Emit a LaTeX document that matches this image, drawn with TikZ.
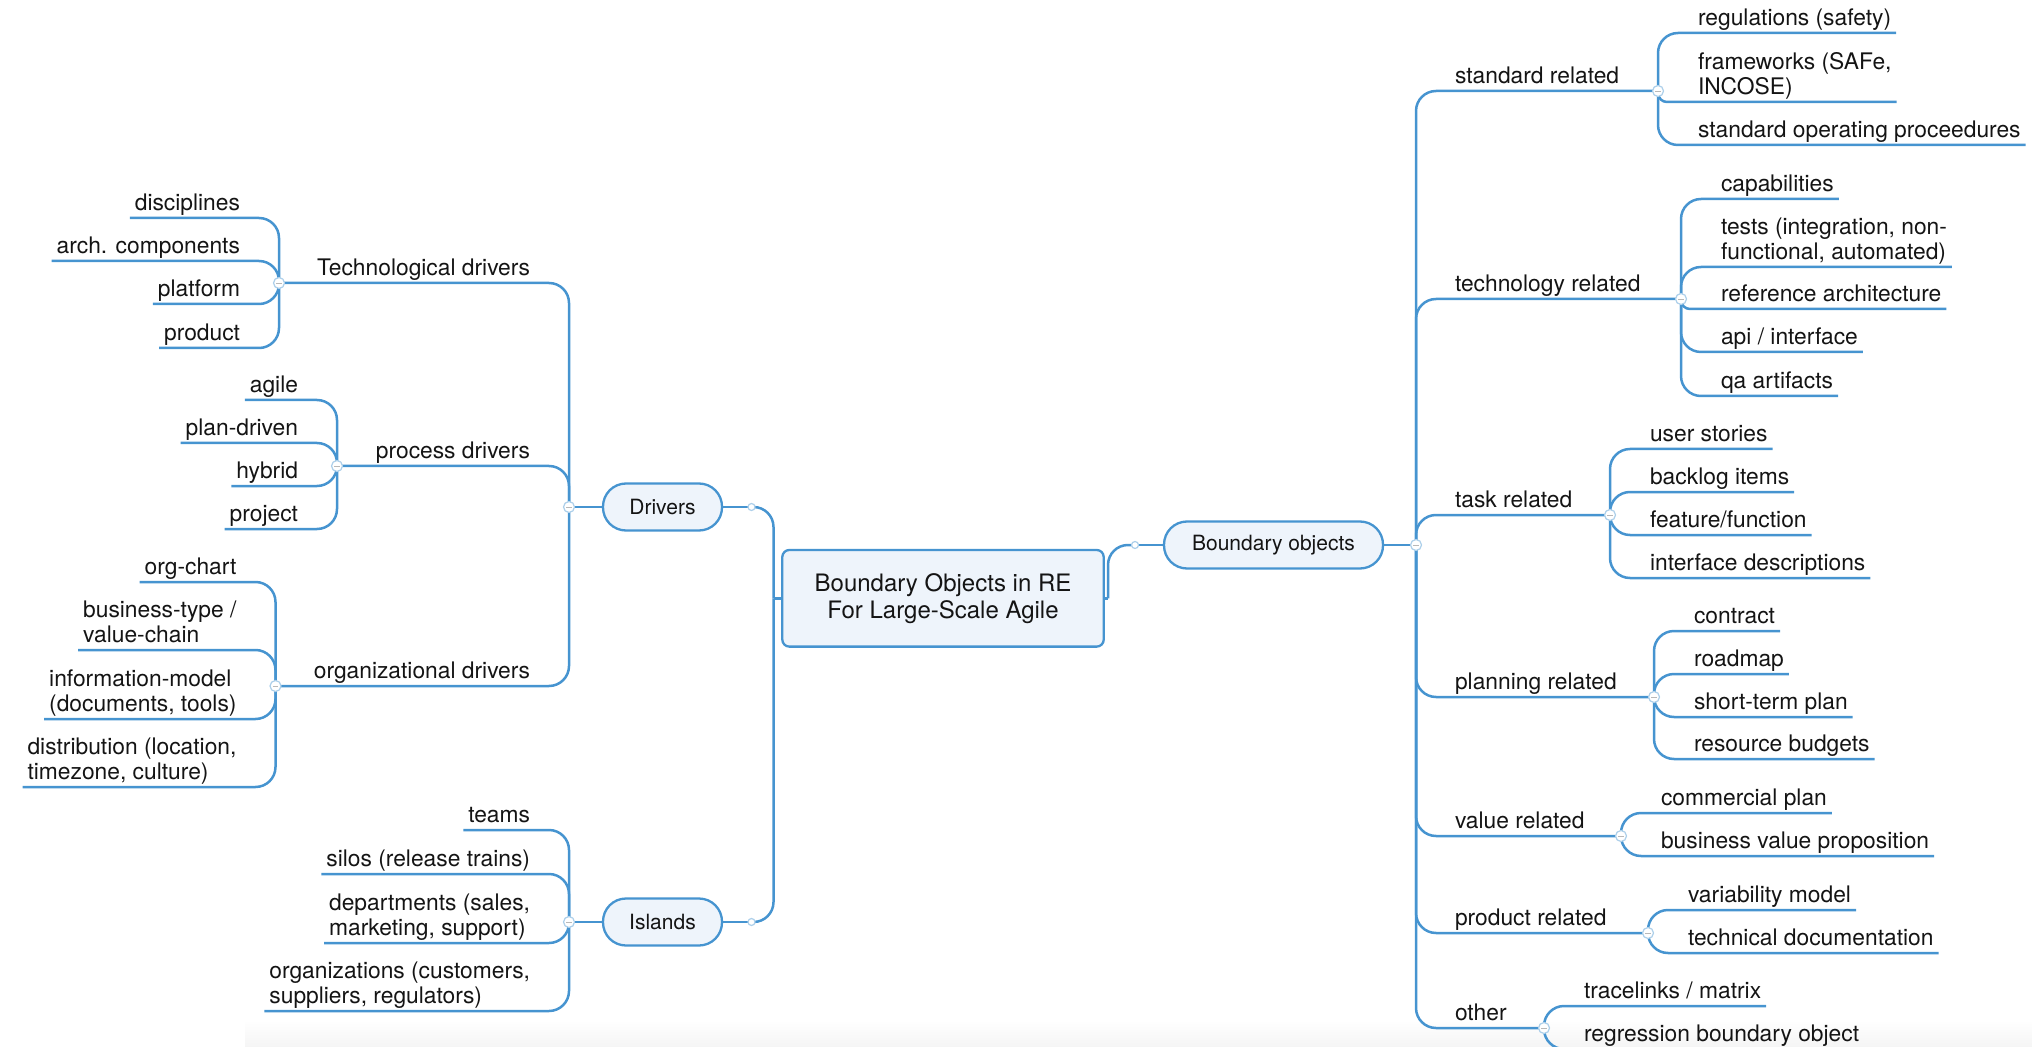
\documentclass[tikz,border=0pt]{standalone}
\usepackage{fontspec}
\setmainfont{TeX Gyre Heros}
\usetikzlibrary{calc,shadings}
\definecolor{ln}{RGB}{70,148,208}
\definecolor{nf}{RGB}{238,244,251}
\definecolor{tx}{RGB}{20,20,20}
\newcommand\ml[1]{\begin{tabular}[b]{@{}l@{}}#1\end{tabular}}
\tikzset{
  conn/.style={draw=ln, line width=1.25pt, rounded corners=10pt},
  connsm/.style={draw=ln, line width=1.25pt, rounded corners=4.5pt},
  leafbase/.style={inner xsep=2.5pt, inner ysep=0pt, outer sep=0pt, text=tx,
    font=\fontsize{11.4}{12.6}\selectfont},
  leafL/.style={leafbase, anchor=south east},
  leafR/.style={leafbase, anchor=south west},
  pill/.style={draw=ln, fill=nf, line width=1.15pt, rounded corners=11.5pt,
    minimum height=23.5pt, inner sep=0pt, text=tx, font=\fontsize{10.5}{12}\selectfont},
  rootbox/.style={draw=ln, fill=nf, line width=1.15pt, rounded corners=3.5pt,
    minimum width=160.7pt, minimum height=48.3pt, align=center, text=tx,
    font=\fontsize{12}{13.5}\selectfont},
  jn/.style={circle, draw=ln!45, fill=white, line width=0.6pt, minimum size=5.5pt, inner sep=0pt,
    path picture={\draw[gray!55, line width=0.4pt]
      ([xshift=-1.3pt]path picture bounding box.center) -- ([xshift=1.3pt]path picture bounding box.center);}},
  jsm/.style={circle, draw=ln!45, fill=white, line width=0.6pt, minimum size=3.5pt, inner sep=0pt},
}
\begin{document}
\begin{tikzpicture}[x=0.5pt, y=-0.5pt]
\useasboundingbox (0,0) rectangle (2032,1047);
\shade[top color=white, bottom color=gray!8] (245,1020) rectangle (2032,1047);

% ---------- coordinates of junctions ----------
\coordinate (tj) at (279,283);
\coordinate (pj) at (337,466);
\coordinate (oj) at (275.5,686);
\coordinate (dj) at (569,507);
\coordinate (ij) at (569,922);
\coordinate (dsc) at (751.5,507);
\coordinate (isc) at (751.5,922);
\coordinate (cl) at (773.5,598.3);
\coordinate (cr) at (1108,598.3);
\coordinate (bsc) at (1135,545);
\coordinate (bj) at (1416,545);
\coordinate (sj) at (1658,91);
\coordinate (tej) at (1681,299);
\coordinate (taj) at (1610,515);
\coordinate (plj) at (1654,697);
\coordinate (vaj) at (1621,836);
\coordinate (prj) at (1648,933);
\coordinate (otj) at (1544,1028);

% ---------- main nodes ----------
\node[rootbox] (root) at (943,598.3) {Boundary Objects in RE\\For Large-Scale Agile};
\node[pill, minimum width=59.5pt] (drv) at (662.5,507) {Drivers};
\node[pill, minimum width=59.5pt] (isl) at (662.5,922) {Islands};
\node[pill, minimum width=109.5pt] (bo) at (1273.5,545) {Boundary objects};

% ---------- left side ----------
\node[leafL] (tech) at (535,283) {\ml{Technological drivers}};
\node[leafL] (proc) at (535,466) {\ml{process drivers}};
\node[leafL] (orgd) at (535,686) {\ml{organizational drivers}};

\node[leafL] (disc) at (245,218) {\ml{disciplines}};
\node[leafL] (arch) at (245,261) {\ml{arch. components}};
\node[leafL] (plat) at (245,304) {\ml{platform}};
\node[leafL] (prod) at (245,348) {\ml{product}};

\node[leafL] (agile) at (303,400) {\ml{agile}};
\node[leafL] (pland) at (303,443) {\ml{plan-driven}};
\node[leafL] (hyb) at (303,486) {\ml{hybrid}};
\node[leafL] (proj) at (303,529) {\ml{project}};

\node[leafL] (orgc) at (241.5,582) {\ml{org-chart}};
\node[leafL] (bus) at (241.5,650) {\ml{business-type /\\value-chain}};
\node[leafL] (info) at (241.5,719) {\ml{information-model\\(documents, tools)}};
\node[leafL] (dist) at (241.5,787) {\ml{distribution (location,\\timezone, culture)}};

\node[leafL] (teams) at (535,830) {\ml{teams}};
\node[leafL] (silos) at (535,874) {\ml{silos (release trains)}};
\node[leafL] (dept) at (535,943) {\ml{departments (sales,\\marketing, support)}};
\node[leafL] (orgs) at (535,1011) {\ml{organizations (customers,\\suppliers, regulators)}};

% ---------- right side ----------
\node[leafR] (std) at (1450,91) {\ml{standard related}};
\node[leafR] (tec) at (1450,299) {\ml{technology related}};
\node[leafR] (tsk) at (1450,515) {\ml{task related}};
\node[leafR] (pln) at (1450,697) {\ml{planning related}};
\node[leafR] (val) at (1450,836) {\ml{value related}};
\node[leafR] (prd) at (1450,933) {\ml{product related}};
\node[leafR] (oth) at (1450,1028) {\ml{other}};

\node[leafR] (reg) at (1693,33) {\ml{regulations (safety)}};
\node[leafR] (fw) at (1693,102) {\ml{frameworks (SAFe,\\INCOSE)}};
\node[leafR] (sop) at (1693,145) {\ml{standard operating proceedures}};

\node[leafR] (cap) at (1716,199) {\ml{capabilities}};
\node[leafR] (tests) at (1716,267) {\ml{tests (integration, non-\\functional, automated)}};
\node[leafR] (refa) at (1716,309) {\ml{reference architecture}};
\node[leafR] (api) at (1716,352) {\ml{api / interface}};
\node[leafR] (qa) at (1716,396) {\ml{qa artifacts}};

\node[leafR] (us) at (1645,449) {\ml{user stories}};
\node[leafR] (bl) at (1645,492) {\ml{backlog items}};
\node[leafR] (ff) at (1645,535) {\ml{feature/function}};
\node[leafR] (ifd) at (1645,578) {\ml{interface descriptions}};

\node[leafR] (con) at (1689,631) {\ml{contract}};
\node[leafR] (rm) at (1689,674) {\ml{roadmap}};
\node[leafR] (stp) at (1689,717) {\ml{short-term plan}};
\node[leafR] (rb) at (1689,759) {\ml{resource budgets}};

\node[leafR] (cp) at (1656,813) {\ml{commercial plan}};
\node[leafR] (bvp) at (1656,856) {\ml{business value proposition}};

\node[leafR] (vm) at (1683,910) {\ml{variability model}};
\node[leafR] (td) at (1683,953) {\ml{technical documentation}};

\node[leafR] (tl) at (1579,1006) {\ml{tracelinks / matrix}};
\node[leafR] (rbo) at (1579,1049) {\ml{regression boundary object}};

% ---------- connectors: left ----------
\draw[conn] (dj) |- (tj);
\draw[conn] (dj) |- (pj);
\draw[conn] (dj) |- (oj);
\draw[conn] (dj) -- (drv.west);

\foreach \n in {disc,arch,plat,prod} \draw[conn] (tj) |- (\n.south west);
\foreach \n in {agile,pland,hyb,proj} \draw[conn] (pj) |- (\n.south west);
\foreach \n in {orgc,bus,info,dist} \draw[conn] (oj) |- (\n.south west);
\foreach \n in {teams,silos,dept,orgs} \draw[conn] (ij) |- (\n.south west);
\draw[conn] (ij) -- (isl.west);

\draw[conn] (drv.east) -- (dsc);
\draw[conn] (isl.east) -- (isc);
\draw[conn] (dsc) -| (cl);
\draw[conn] (isc) -| (cl);
\draw[conn] (cl) -- (root.west);

% ---------- connectors: right ----------
\draw[conn] (root.east) -- (cr);
\draw[conn] (cr) |- (bsc);
\draw[conn] (bsc) -- (bo.west);
\draw[conn] (bo.east) -- (bj);

\foreach \j in {sj,tej,taj,plj,vaj,prj,otj} \draw[conn] (bj) |- (\j);

\draw[conn] (sj) |- (reg.south east);
\draw[connsm] (sj) |- (fw.south east);
\draw[conn] (sj) |- (sop.south east);
\foreach \n in {cap,tests,api,qa} \draw[conn] (tej) |- (\n.south east);
\draw[connsm] (tej) |- (refa.south east);
\foreach \n in {us,bl,ff,ifd} \draw[conn] (taj) |- (\n.south east);
\foreach \n in {con,rm,stp,rb} \draw[conn] (plj) |- (\n.south east);
\foreach \n in {cp,bvp} \draw[conn] (vaj) |- (\n.south east);
\foreach \n in {vm,td} \draw[conn] (prj) |- (\n.south east);
\foreach \n in {tl,rbo} \draw[conn] (otj) |- (\n.south east);

% ---------- junction markers ----------
\foreach \j in {tj,pj,oj,dj,ij,bj,sj,tej,taj,plj,vaj,prj,otj}
  \node[jn] (\j m) at (\j) {};
\foreach \j in {dsc,isc,bsc}
  \node[jsm] (\j m) at (\j) {};
\end{tikzpicture}
\end{document}
